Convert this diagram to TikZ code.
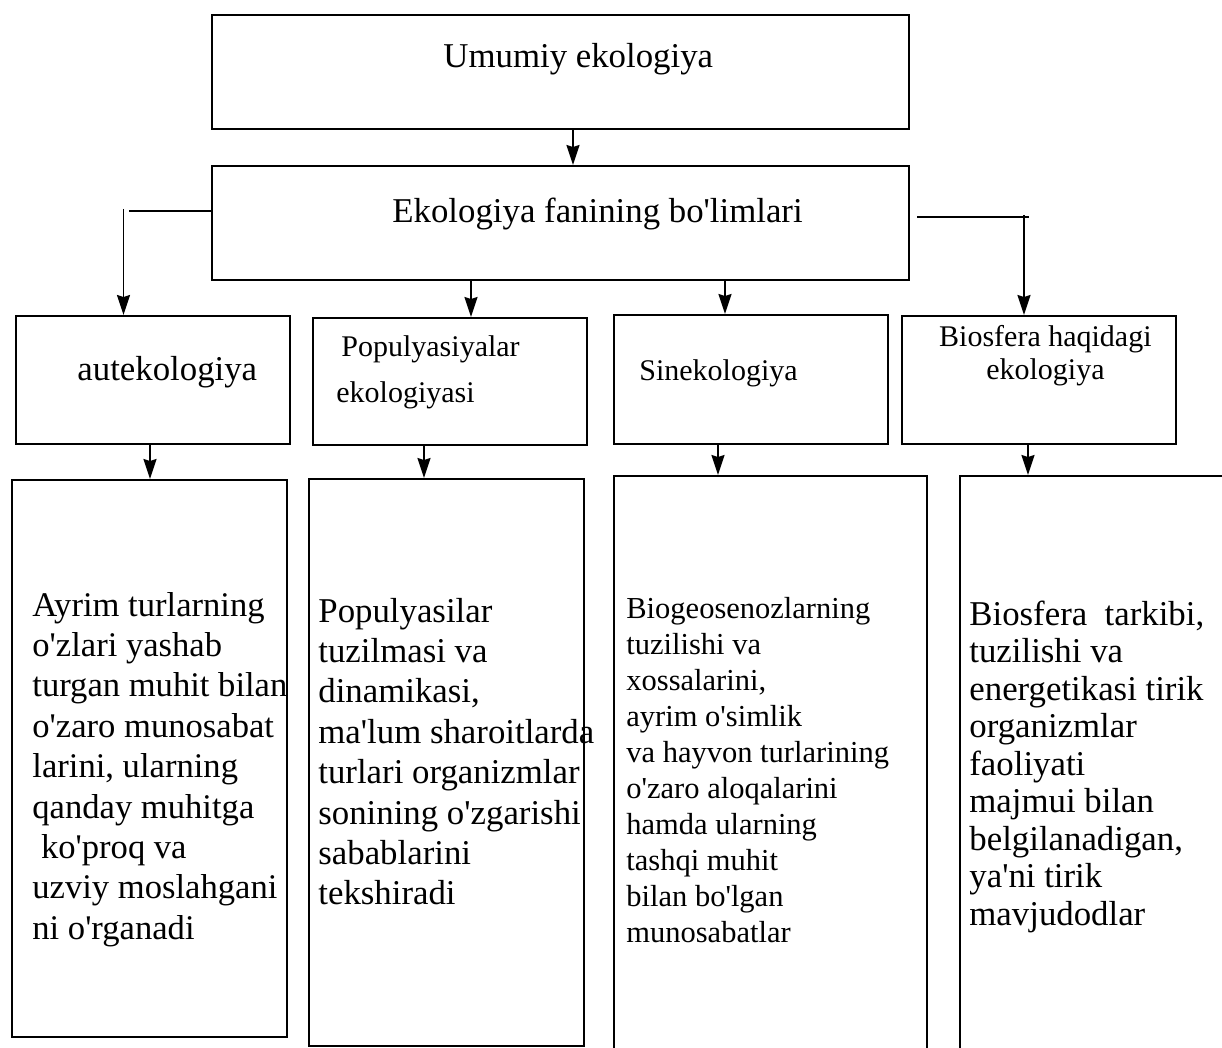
\documentclass[tikz,border=0pt]{standalone}
\usepackage{fontspec}
% a family without the TeX ligature mapping keeps straight apostrophes
\newfontfamily\serif{Liberation Serif}
\usetikzlibrary{arrows.meta}
\begin{document}
\begin{tikzpicture}[x=0.5pt,y=-0.5pt,
  box/.style={draw, line width=1pt, inner sep=0pt, anchor=north west},
  link/.style={line width=0.8pt},
  arr/.style={link, -{Stealth[length=10pt,width=6.5pt,inset=1pt]}},
  txt/.style={anchor=base west, inner sep=0pt},
  fs/.style={font=\serif\fontsize{#1}{#1}\selectfont},
]
\useasboundingbox (0,0) rectangle (1222,1048);
\clip (0,0) rectangle (1222,1048);

% top two levels
\node[box, minimum width=348.5pt, minimum height=57pt] (top)  at (211,14)  {};
\node[box, minimum width=348.5pt, minimum height=57pt] (ekol) at (211,165) {};

% the four branches
\node[box, minimum width=137pt, minimum height=64pt]   (aut) at (15,315)  {};
\node[box, minimum width=137pt, minimum height=63.5pt] (pop) at (312,317) {};
\node[box, minimum width=137pt, minimum height=64.5pt] (sin) at (613,314) {};
\node[box, minimum width=137pt, minimum height=64pt]   (bio) at (901,315) {};

% description boxes
\node[box, minimum width=137.5pt, minimum height=278.5pt] (d1) at (11,479)  {};
\node[box, minimum width=137.5pt, minimum height=283.5pt] (d2) at (308,478) {};
\node[box, minimum width=156.5pt, minimum height=302.5pt] (d3) at (613,475) {};
\node[box, minimum width=140.5pt, minimum height=302.5pt] (d4) at (959,475) {};

% headings
\node[txt, fs=17.4] (ttop) at (443,68) {Umumiy ekologiya};
\node[txt, fs=17.4] (tekol) at (392,223) {Ekologiya fanining bo'limlari};
\node[txt, fs=17.4] (taut) at (77,380) {autekologiya};
\node[txt] (tpop) at (336,357) {\parbox[t]{200pt}{\serif\fontsize{15}{23}\selectfont\raggedright
  \hspace*{2.5pt}Populyasiyalar\\ekologiyasi}};
\node[txt, fs=15] (tsin) at (639,381) {Sinekologiya};
\node[txt] (tbio) at (920,347) {\parbox[t]{125pt}{\serif\fontsize{15}{16.5}\selectfont\centering
  Biosfera haqidagi\\ekologiya}};

% descriptions
\node[txt] (td1) at (32,616) {\parbox[t]{300pt}{\serif\fontsize{17.3}{20.2}\selectfont\raggedright
  Ayrim turlarning\\
  o'zlari yashab\\
  turgan muhit bilan\\
  o'zaro munosabat\\
  larini, ularning\\
  qanday muhitga\\
  \hspace*{0.25em}ko'proq va\\
  uzviy moslahgani\\
  ni o'rganadi}};
\node[txt] (td2) at (318,622) {\parbox[t]{300pt}{\serif\fontsize{17.4}{20.2}\selectfont\raggedright
  Populyasilar\\
  tuzilmasi va\\
  dinamikasi,\\
  ma'lum sharoitlarda\\
  turlari organizmlar\\
  sonining o'zgarishi\\
  sabablarini\\
  tekshiradi}};
\node[txt] (td3) at (626,618) {\parbox[t]{300pt}{\serif\fontsize{15.25}{18}\selectfont\raggedright
  Biogeosenozlarning\\
  tuzilishi va\\
  xossalarini,\\
  ayrim o'simlik\\
  va hayvon turlarining\\
  o'zaro aloqalarini\\
  hamda ularning\\
  tashqi muhit\\
  bilan bo'lgan\\
  munosabatlar}};
\node[txt] (td4) at (969,625) {\parbox[t]{300pt}{\serif\fontsize{17.4}{18.75}\selectfont\raggedright
  Biosfera~ tarkibi,\\
  tuzilishi va\\
  energetikasi tirik\\
  organizmlar\\
  faoliyati\\
  majmui bilan\\
  belgilanadigan,\\
  ya'ni tirik\\
  mavjudodlar}};

% connectors
\coordinate (xa) at (573,0);
\draw[arr] (top.south -| xa) -- (ekol.north -| xa);

\coordinate (lh) at (129,211);
\draw[link] (ekol.west |- lh) -- (lh);
\coordinate (lv) at (123.5,209);
\draw[arr] (lv) -- (aut.north -| lv);

\coordinate (rh0) at (917,217);
\coordinate (rh1) at (1029,217);
\draw[link] (rh0) -- (rh1);
\coordinate (rv) at (1024,215);
\draw[arr] (rv) -- (bio.north -| rv);

\coordinate (xp) at (471,0);
\draw[arr] (ekol.south -| xp) -- (pop.north -| xp);
\coordinate (xs) at (725,0);
\draw[arr] (ekol.south -| xs) -- (sin.north -| xs);

\coordinate (x1) at (150,0);
\draw[arr] (aut.south -| x1) -- (d1.north -| x1);
\coordinate (x2) at (424,0);
\draw[arr] (pop.south -| x2) -- (d2.north -| x2);
\coordinate (x3) at (718,0);
\draw[arr] (sin.south -| x3) -- (d3.north -| x3);
\coordinate (x4) at (1028,0);
\draw[arr] (bio.south -| x4) -- (d4.north -| x4);
\end{tikzpicture}
\end{document}
